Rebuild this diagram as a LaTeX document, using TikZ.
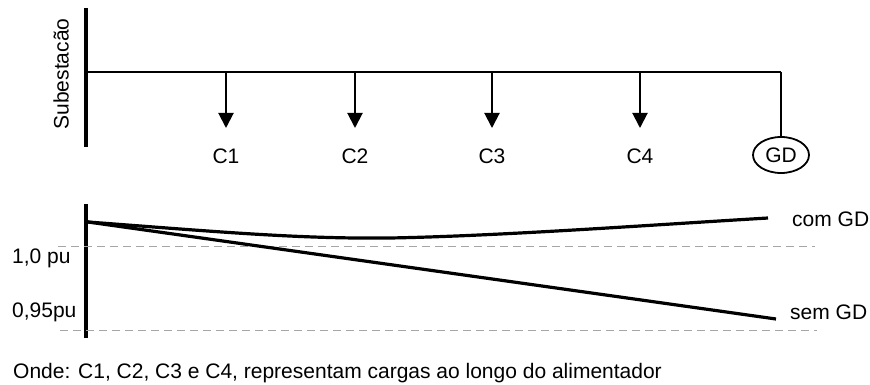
\documentclass[tikz,border=0pt]{standalone}
\usepackage{fontspec}
\setmainfont{Liberation Sans}
\usetikzlibrary{arrows.meta,shapes.geometric}
\begin{document}
\begin{tikzpicture}[x=1pt,y=-1pt,
  bus/.style={line width=4.5pt},
  feeder/.style={line width=2.2pt},
  load/.style={line width=2pt,-{Triangle[width=15pt,length=15pt]}},
  lbl/.style={font=\fontsize{21}{25}\selectfont,inner sep=0pt},
  curve/.style={line width=3.2pt},
  ref/.style={gray!70,line width=1pt,dash pattern=on 8pt off 5pt}]
\useasboundingbox (0,0) rectangle (870,385);

% one-line diagram of the feeder
\coordinate (busT) at (86,8);
\coordinate (busB) at (86,147);
\draw[bus] (busT) -- (busB);
\coordinate (fs) at (86,72);
\coordinate (fe) at (781,72);
\draw[feeder] (fs) -- (fe);
\node[lbl,rotate=90] (sub) at (61,74) {Subestacão};

\foreach \n/\x in {1/226,2/355,3/492,4/640}{
  \coordinate (t\n) at (\x,72);
  \coordinate (h\n) at (\x,128);
  \draw[load] (t\n) -- (h\n);
  \node[lbl] (c\n) at (\x,156) {C\n};
}

\node[lbl,draw,ellipse,line width=1.8pt,minimum width=56pt,minimum height=36pt,inner sep=0pt] (gd) at (781,155) {GD};
\draw[feeder] (fe) -- (gd.north);

% voltage profile along the feeder
\coordinate (vT) at (86,204);
\coordinate (vB) at (86,338);
\draw[bus] (vT) -- (vB);

\coordinate (l1a) at (58,246);
\coordinate (l1b) at (815,246);
\coordinate (l2a) at (60,330);
\coordinate (l2b) at (817,330);
\draw[ref] (l1a) -- (l1b);
\draw[ref] (l2a) -- (l2b);

\node[lbl,anchor=west] (pu1) at (12,258) {1,0 pu};
\node[lbl,anchor=west] (pu2) at (12,312) {0,95pu};

\coordinate (v0) at (88,222);
\coordinate (ce) at (768,218);
\coordinate (se) at (776,319);
\draw[curve] (v0) .. controls (220,232) and (300,239) .. (390,238)
                  .. controls (500,236) and (650,225) .. (ce);
\draw[curve] (v0) -- (se);
\node[lbl,anchor=west] (com) at (792,219) {com GD};
\node[lbl,anchor=west] (sem) at (790,312) {sem GD};

\node[lbl,anchor=west] (note) at (13,373) {Onde: C1, C2, C3 e C4, representam cargas ao longo do alimentador};
\end{tikzpicture}
\end{document}
